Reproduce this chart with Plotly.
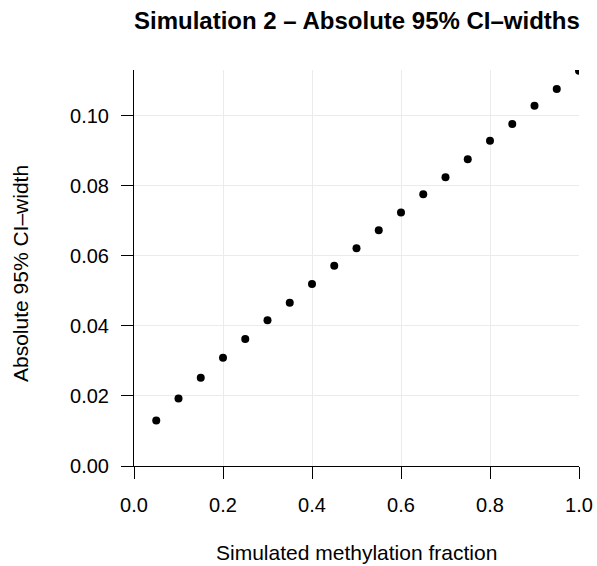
import plotly.graph_objects as go

fraction = [0.05, 0.10, 0.15, 0.20, 0.25, 0.30, 0.35, 0.40, 0.45, 0.50,
            0.55, 0.60, 0.65, 0.70, 0.75, 0.80, 0.85, 0.90, 0.95, 1.00]
ci_width = [0.0130, 0.0193, 0.0252, 0.0309, 0.0363, 0.0416, 0.0466, 0.0520, 0.0572, 0.0622,
            0.0673, 0.0724, 0.0776, 0.0825, 0.0876, 0.0929, 0.0977, 0.1029, 0.1077, 0.1129]
x_ticks = [0.0, 0.2, 0.4, 0.6, 0.8, 1.0]
y_ticks = [0.00, 0.02, 0.04, 0.06, 0.08, 0.10]

FONT = "Liberation Sans, Arial, sans-serif"

fig = go.Figure()
fig.add_trace(go.Scatter(
    x=fraction, y=ci_width, mode="markers",
    marker=dict(color="black", size=8),
    showlegend=False, hoverinfo="x+y",
))

axis_common = dict(
    showline=True, linecolor="black", linewidth=1,
    ticks="outside", ticklen=12, tickwidth=1, tickcolor="black",
    showgrid=True, gridcolor="#EBEBEB", gridwidth=1,
    zeroline=False, mirror=False, automargin=False,
    tickfont=dict(family=FONT, size=20, color="black"),
)

fig.update_xaxes(range=[0, 1.0], tickvals=x_ticks, tickformat=".1f",
                 ticklabelstandoff=9, **axis_common)
fig.update_yaxes(range=[0, 0.1131], tickvals=y_ticks, tickformat=".2f",
                 ticklabelstandoff=8, **axis_common)

fig.update_layout(
    width=597, height=566, autosize=False,
    margin=dict(l=134, r=18, t=70, b=100),
    plot_bgcolor="white", paper_bgcolor="white",
    font=dict(family=FONT, color="black"),
    annotations=[
        dict(text="<b>Simulation 2 \u2013 Absolute 95% CI\u2013widths</b>",
             xref="paper", yref="paper", x=0.5, y=1.124,
             xanchor="center", yanchor="middle", showarrow=False,
             font=dict(family=FONT, size=24, color="black")),
        dict(text="Simulated methylation fraction",
             xref="paper", yref="paper", x=0.5, y=-0.2187,
             xanchor="center", yanchor="middle", showarrow=False,
             font=dict(family=FONT, size=21, color="black")),
        dict(text="Absolute 95% CI\u2013width",
             xref="paper", yref="paper", x=-0.2565, y=0.487, textangle=-90,
             xanchor="center", yanchor="middle", showarrow=False,
             font=dict(family=FONT, size=21, color="black")),
    ],
)

fig.write_html("out.html", config={"displayModeBar": False},
               post_script="document.body.style.margin='0';")
